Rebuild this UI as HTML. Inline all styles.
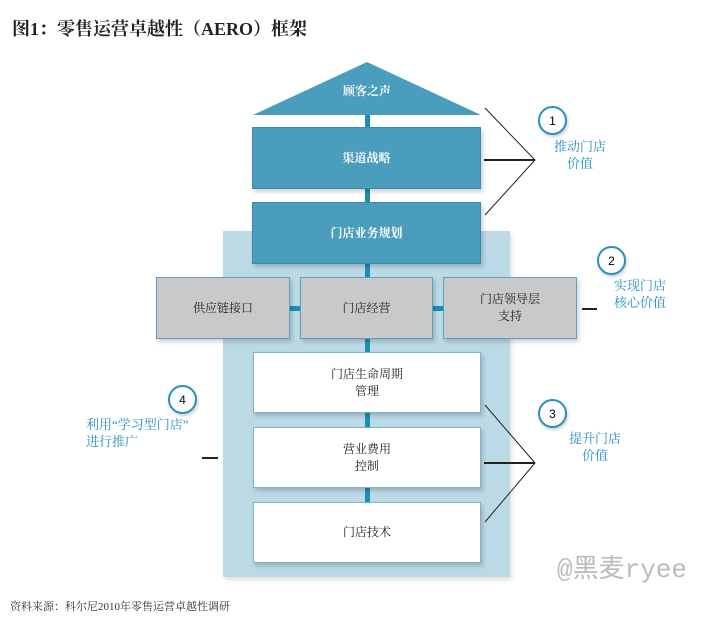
<!DOCTYPE html>
<html><head><meta charset="utf-8"><style>
body{margin:0;width:723px;height:638px;background:#fff;position:relative;overflow:hidden;font-family:"Liberation Serif","Noto Serif CJK SC",serif}
.a{position:absolute}
.box{position:absolute;display:flex;align-items:center;justify-content:center;text-align:center;font-size:12px;line-height:17px;box-sizing:border-box;box-shadow:2px 3px 4px rgba(0,0,0,0.18)}
.blue{background:#4a9dbd;border:1px solid #3a8aab;color:#fff;font-weight:bold}
.gray{background:#c8c9cb;border:1px solid #5fa0bd;color:#222}
.white{background:#fff;border:1px solid #7fb3cb;color:#222}
.bar{position:absolute;background:#1a8fb3}
.lbl{position:absolute;color:#2a8fbf;font-size:13px;line-height:17px;text-align:center;font-family:"Liberation Serif","Noto Serif CJK SC",serif}
.c{position:absolute;width:25px;height:25px;border:2px solid #2a8fbf;border-radius:50%;background:#fff;font:12px "Liberation Sans",sans-serif;display:flex;align-items:center;justify-content:center;box-shadow:1px 2px 3px rgba(0,0,0,0.2)}
</style></head><body>
<div class="a" style="left:12px;top:15px;font-size:18px;font-weight:bold;color:#222;white-space:nowrap">图1：零售运营卓越性（AERO）框架</div>
<div class="a" style="left:223px;top:231px;width:287px;height:346px;background:#bcd9e6;box-shadow:2px 3px 4px rgba(0,0,0,0.12)"></div>
<div class="bar" style="left:365px;top:112px;width:5px;height:420px"></div>
<div class="bar" style="left:290px;top:306px;width:153px;height:5px"></div>
<svg class="a" style="left:0;top:0" width="723" height="638">
<polygon points="367,62 253,115 481,115" fill="#4a9dbd"/>
<g stroke="#222" fill="none">
<polyline points="485,108 535,160 485,215" stroke-width="1"/>
<line x1="484" y1="160" x2="535" y2="160" stroke-width="2"/>
<polyline points="485,405 535,463 485,522" stroke-width="1"/>
<line x1="484" y1="463" x2="535" y2="463" stroke-width="2"/>
<line x1="582" y1="309" x2="597" y2="309" stroke-width="2"/>
<line x1="202" y1="458" x2="218" y2="458" stroke-width="2"/>
</g></svg>
<div class="a" style="left:253px;top:82px;width:228px;text-align:center;color:#fff;font-size:12px;font-weight:bold">顾客之声</div>
<div class="box blue" style="left:252px;top:127px;width:229px;height:62px">渠道战略</div>
<div class="box blue" style="left:252px;top:202px;width:229px;height:62px">门店业务规划</div>
<div class="box gray" style="left:156px;top:277px;width:134px;height:62px">供应链接口</div>
<div class="box gray" style="left:300px;top:277px;width:133px;height:62px">门店经营</div>
<div class="box gray" style="left:443px;top:277px;width:134px;height:62px">门店领导层<br>支持</div>
<div class="box white" style="left:253px;top:352px;width:228px;height:61px">门店生命周期<br>管理</div>
<div class="box white" style="left:253px;top:427px;width:228px;height:61px">营业费用<br>控制</div>
<div class="box white" style="left:253px;top:502px;width:228px;height:61px">门店技术</div>
<div class="c" style="left:538px;top:106px">1</div>
<div class="c" style="left:597px;top:246px">2</div>
<div class="c" style="left:538px;top:399px">3</div>
<div class="c" style="left:168px;top:385px">4</div>
<div class="lbl" style="left:550px;top:138px;width:60px">推动门店<br>价值</div>
<div class="lbl" style="left:610px;top:277px;width:60px">实现门店<br>核心价值</div>
<div class="lbl" style="left:565px;top:430px;width:60px">提升门店<br>价值</div>
<div class="lbl" style="left:70px;top:416px;width:150px;text-align:left;padding-left:16px">利用“学习型门店”<br>进行推广</div>
<div class="a" style="left:557px;top:548px;color:#bbb;font-size:26px;font-family:'Liberation Mono','Noto Sans CJK SC',monospace;white-space:nowrap">@黑麦ryee</div>
<div class="a" style="left:10px;top:598px;font-size:11px;color:#333;white-space:nowrap">资料来源：科尔尼2010年零售运营卓越性调研</div>
</body></html>
